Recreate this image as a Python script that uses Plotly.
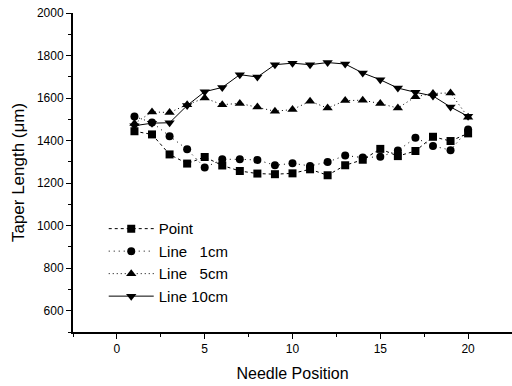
import plotly.graph_objects as go

positions = list(range(1, 21))
point = [1444, 1429, 1335, 1292, 1323, 1283, 1257, 1245, 1242, 1246, 1265, 1237, 1284, 1310, 1361, 1327, 1351, 1418, 1398, 1434]
line_1cm = [1513, 1485, 1421, 1359, 1273, 1312, 1312, 1309, 1284, 1293, 1281, 1299, 1330, 1320, 1324, 1353, 1413, 1375, 1355, 1452]
line_5cm = [1480, 1535, 1532, 1569, 1600, 1569, 1575, 1558, 1538, 1546, 1585, 1553, 1588, 1590, 1574, 1553, 1606, 1622, 1624, 1510]
line_10cm = [1470, 1482, 1484, 1565, 1630, 1650, 1710, 1699, 1757, 1764, 1757, 1767, 1760, 1718, 1686, 1647, 1627, 1610, 1558, 1514]

names = ["Point", "Line\u00a0\u00a0\u00a01cm", "Line\u00a0\u00a0\u00a05cm", "Line 10cm"]
series = [point, line_1cm, line_5cm, line_10cm]
symbols = ["square", "circle", "triangle-up", "triangle-down"]
dashes = ["dot", "1px,4px", "1px,3px", "solid"]
sizes = [8, 8, 9, 9]

fig = go.Figure()
for nm, ys, sym, d, s in zip(names, series, symbols, dashes, sizes):
    fig.add_trace(go.Scatter(
        x=positions, y=ys, name=nm, mode="lines+markers",
        line=dict(color="black", width=1, dash=d),
        marker=dict(symbol=sym, size=s, color="black"),
    ))

font = "Liberation Sans, Arial, sans-serif"
fig.update_layout(
    width=512, height=386,
    margin=dict(l=73, r=0, t=13, b=54),
    paper_bgcolor="white", plot_bgcolor="white",
    font=dict(family=font, color="black", size=12),
    showlegend=True,
    legend=dict(x=0.07, y=0.375, xanchor="left", yanchor="top",
                bgcolor="rgba(0,0,0,0)", font=dict(size=15, family=font),
                tracegroupgap=0, itemsizing="trace", itemwidth=45),
    xaxis=dict(
        range=[-2.5, 22.5], tick0=0, dtick=5, ticks="outside", ticklen=5,
        tickwidth=1, tickcolor="black",
        showline=True, linecolor="black", linewidth=2, showgrid=False, zeroline=False,
        minor=dict(dtick=2.5, tick0=0, ticks="outside", ticklen=3, tickcolor="black"),
        title=dict(text="Needle Position", font=dict(size=16), standoff=12),
        tickfont=dict(size=12),
    ),
    yaxis=dict(
        range=[500, 2000], tick0=0, dtick=200, ticks="outside", ticklen=5,
        tickwidth=1, tickcolor="black",
        showline=True, linecolor="black", linewidth=2, showgrid=False, zeroline=False,
        minor=dict(dtick=100, tick0=0, ticks="outside", ticklen=3, tickcolor="black"),
        title=dict(text="Taper Length (μm)", font=dict(size=17), standoff=8),
        tickfont=dict(size=12),
    ),
)
fig.write_html("out.html")
